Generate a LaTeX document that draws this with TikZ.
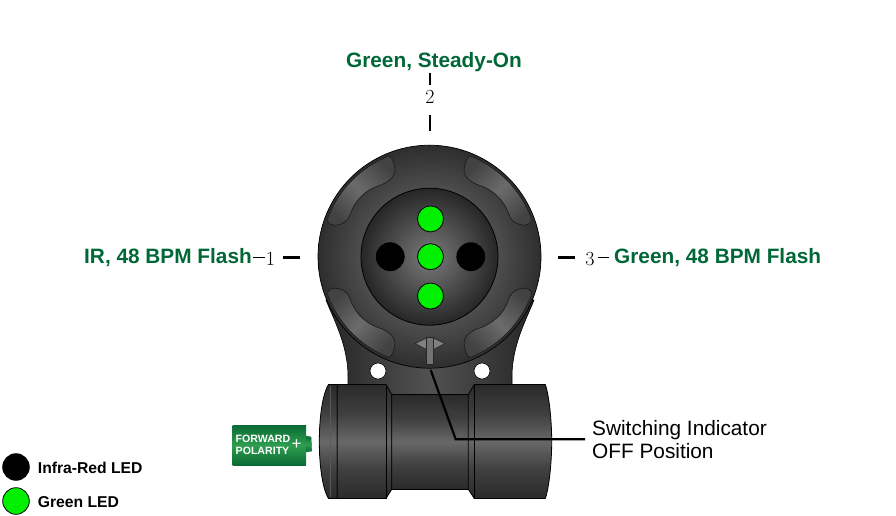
\documentclass[tikz,border=0pt]{standalone}
\usepackage{fontspec}
\setsansfont{Liberation Sans}
\usetikzlibrary{positioning}
\definecolor{labelgreen}{HTML}{006837}
\definecolor{ledgreen}{HTML}{00F000}
\definecolor{batterydark}{HTML}{0A6B35}
\definecolor{batterylight}{HTML}{2E9E4F}
\definecolor{tubedark}{HTML}{2A2A2A}
\definecolor{tubemid}{HTML}{404040}
\definecolor{tubelight}{HTML}{686868}
\pgfdeclareverticalshading{tube}{100bp}{color(0bp)=(tubedark); color(25bp)=(tubedark); color(38bp)=(tubemid); color(50bp)=(tubelight); color(62bp)=(tubemid); color(75bp)=(tubedark); color(100bp)=(tubedark)}
\tikzset{led/.style={circle,draw=black,line width=0.8pt,fill=ledgreen,minimum size=26pt,inner sep=0pt}}
\tikzset{irled/.style={led,fill=black,minimum size=28pt}}
\tikzset{hole/.style={circle,draw=black,line width=0.6pt,fill=white,minimum size=16pt,inner sep=0pt}}
\tikzset{modelabel/.style={font=\sffamily\bfseries\fontsize{20.8}{24}\selectfont,text=labelgreen,inner sep=0pt}}
\tikzset{posnum/.style={font=\rmfamily\fontsize{20}{24}\selectfont,inner sep=0pt}}
\tikzset{legendtext/.style={font=\sffamily\bfseries\fontsize{15.7}{18}\selectfont,inner sep=0pt,yshift=-1pt}}
\tikzset{tick/.style={line width=2.2pt}}
\tikzset{thintick/.style={line width=1.5pt}}
\tikzset{grip/.style={draw=black!90,line width=0.6pt,left color=black!74,right color=black!74,middle color=black!58}}
\tikzset{block/.style={draw=black,line width=0.8pt,shading=tube}}
\newcommand{\gripshape}{(-41,-100.7) arc[start angle=-112,end angle=-159,radius=108.5]
	.. controls (-104,-33) and (-96,-30) .. (-91,-32)
	.. controls (-83,-34) and (-81,-38) .. (-79,-43)
	.. controls (-74,-58) and (-62,-68) .. (-48,-72)
	.. controls (-38,-76) and (-33,-82) .. (-35,-90)
	.. controls (-36,-96) and (-38,-100) .. (-41,-100.7) -- cycle}
\begin{document}
\begin{tikzpicture}[x=1pt,y=-1pt]
	\useasboundingbox (0,0) rectangle (896,515);

	% neck and holes
	\path[draw=black,line width=0.6pt,left color=black!85,right color=black!85,middle color=black!68]
		(326,300) .. controls (333,318) and (348,345) .. (348,376) -- (348,396)
		-- (512,396) -- (512,376) .. controls (512,345) and (527,318) .. (534,300) -- cycle;
	\node[hole] (holeleft) at (378,371) {};
	\node[hole] (holeright) at (482,371) {};

	% cylinder
	\path[block] (337.3,384.5) -- (328.5,384.5) .. controls (322,395) and (319.3,420) .. (319.3,441.5)
		.. controls (319.3,463) and (322,488) .. (328.5,498.5) -- (337.3,498.5) -- cycle;
	\draw[black!65,line width=0.6pt] (330,386) -- (330,497);
	\path[block] (391.7,394.5) rectangle (468.3,489.3);
	\path[block] (337.3,384.5) -- (386,384.5) -- (391.7,394.5) -- (391.7,489.3) -- (386,498.5) -- (337.3,498.5) -- cycle;
	\path[block] (468.3,394.5) -- (474.3,384.5) -- (545.3,384.5) .. controls (549,395) and (551.7,420) .. (551.7,441.5)
		.. controls (551.7,463) and (549,488) .. (545.3,498.5) -- (474.3,498.5) -- (468.3,489.3) -- cycle;
	\draw[line width=0.8pt] (386,384.5) -- (386,498.5);
	\draw[line width=0.8pt] (474.3,384.5) -- (474.3,498.5);

	% head
	\node[circle,draw=black,line width=0.7pt,minimum size=223pt,inner sep=0pt,inner color=black!50,outer color=black!82] (head) at (429.5,256.7) {};
	\begin{scope}[shift={(head.center)}]
		\foreach \sx/\sy/\ang in {1/1/-45,-1/1/45,1/-1/45,-1/-1/-45}
			\path[grip,shading angle=\ang,xscale=\sx,yscale=\sy] \gripshape;
	\end{scope}
	\node[circle,draw=black,line width=0.8pt,minimum size=137pt,inner sep=0pt,inner color=black!52,outer color=black!85] (face) at (head.center) {};

	% leds
	\node[led] (ledcenter) at (430.5,256.7) {};
	\node[led,above=11pt of ledcenter] (ledtop) {};
	\node[led,below=12.5pt of ledcenter] (ledbottom) {};
	\node[irled,left=12.5pt of ledcenter] (irleft) {};
	\node[irled,right=12.5pt of ledcenter] (irright) {};

	% switch marker
	\path[draw=black!85,fill=black!50,line width=0.6pt] (426.7,338) -- (415,343.5) -- (426.7,349.5) -- cycle;
	\path[draw=black!85,fill=black!50,line width=0.6pt] (433.3,338) -- (445,343.5) -- (433.3,349.5) -- cycle;
	\path[draw=black!85,fill=black!55,line width=0.6pt] (426.7,337.5) rectangle (433.3,364);

	% position labels
	\node[modelabel] (modetop) at (434,62.5) {Green, Steady-On};
	\node[posnum] (numtop) at (430,97) {2};
	\coordinate (thintopA) at (430,72.7);
	\coordinate (thintopB) at (430,85);
	\coordinate (ticktopA) at (430,115);
	\coordinate (ticktopB) at (430,131);
	\draw[thintick] (thintopA) -- (thintopB);
	\draw[tick] (ticktopA) -- (ticktopB);

	\node[modelabel,anchor=east] (modeleft) at (252,258) {IR, 48 BPM Flash};
	\node[posnum] (numleft) at (270.5,259) {1};
	\coordinate (thinleftA) at (253,257.5);
	\coordinate (thinleftB) at (265,257.5);
	\coordinate (tickleftA) at (283,257.5);
	\coordinate (tickleftB) at (299.5,257.5);
	\draw[thintick] (thinleftA) -- (thinleftB);
	\draw[tick] (tickleftA) -- (tickleftB);

	\node[modelabel,anchor=west] (moderight) at (614,258) {Green, 48 BPM Flash};
	\node[posnum] (numright) at (590,259) {3};
	\coordinate (thinrightA) at (597.5,257.5);
	\coordinate (thinrightB) at (609,257.5);
	\coordinate (tickrightA) at (558,257.5);
	\coordinate (tickrightB) at (575,257.5);
	\draw[thintick] (thinrightA) -- (thinrightB);
	\draw[tick] (tickrightA) -- (tickrightB);

	% indicator callout
	\coordinate (markerend) at (430.7,370);
	\coordinate (calloutbend) at (455.7,439.3);
	\coordinate (calloutend) at (585,439.3);
	\node[anchor=west,align=left,inner sep=0pt,font=\sffamily\fontsize{20.8}{23}\selectfont] (callout) at (592,439.5) {Switching Indicator\\OFF Position};
	\draw[line width=2.2pt] (markerend) -- (calloutbend) -- (calloutend);

	% polarity
	\path[draw=batterydark,line width=0.4pt,top color=batterydark,bottom color=batterydark,middle color=batterylight] (306,436) -- (311,437) -- (311.7,451) -- (306,452) -- cycle;
	\node[anchor=north west,minimum width=73.7pt,minimum height=40pt,inner sep=0pt,top color=batterydark,bottom color=batterydark,middle color=batterylight] (battery) at (232.3,425) {};
	\node[anchor=west,align=left,text=white,inner sep=0pt,font=\sffamily\bfseries\fontsize{10.6}{11.7}\selectfont] (polarity) at (235.5,445) {FORWARD\\POLARITY};
	\node[text=white,inner sep=0pt,font=\sffamily\fontsize{17}{17}\selectfont] (plus) at (296.5,444.3) {+};

	% legend
	\node[irled,minimum size=26.6pt] (legendir) at (16,467) {};
	\node[led,minimum size=26.6pt] (legendgreen) at (16,501) {};
	\node[legendtext,right=8pt of legendir] (legendirtext) {Infra-Red LED};
	\node[legendtext,right=8pt of legendgreen] (legendgreentext) {Green LED};
\end{tikzpicture}
\end{document}
